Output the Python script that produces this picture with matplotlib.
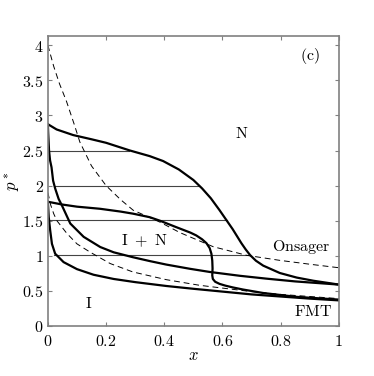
import matplotlib
matplotlib.use("Agg")
import matplotlib.pyplot as plt
from matplotlib.ticker import FuncFormatter

plt.rcParams['mathtext.fontset'] = 'cm'
plt.rcParams['font.family'] = 'serif'
plt.rcParams['font.serif'] = ['DejaVu Serif']

# outer coexistence region (upper binodal)
outer_N_x = [0, 0.03, 0.087, 0.15, 0.2, 0.282, 0.35, 0.396, 0.45, 0.5, 0.53, 0.56,
             0.59, 0.615, 0.635, 0.65, 0.665, 0.68, 0.695, 0.715, 0.74, 0.797, 0.855,
             0.912, 1.0]
outer_N_p = [2.875, 2.80, 2.72, 2.66, 2.61, 2.50, 2.42, 2.35, 2.23, 2.08, 1.96, 1.82,
             1.65, 1.50, 1.38, 1.28, 1.18, 1.09, 1.01, 0.93, 0.86, 0.755, 0.69,
             0.645, 0.59]
outer_I_x = [0, 0.001, 0.004, 0.0075, 0.0126, 0.018, 0.025, 0.037, 0.048, 0.077, 0.123,
             0.18, 0.226, 0.292, 0.35, 0.407, 0.488, 0.556, 0.66, 0.75, 0.85, 1.0]
outer_I_p = [2.875, 2.76, 2.5, 2.36, 2.26, 2.07, 1.96, 1.81, 1.72, 1.46, 1.27,
             1.125, 1.05, 0.98, 0.925, 0.875, 0.815, 0.77, 0.715, 0.675, 0.635, 0.59]

# inner coexistence region (lower binodal)
inner_N_x = [0, 0.05, 0.1, 0.179, 0.25, 0.293, 0.35, 0.385, 0.44, 0.49, 0.51, 0.53,
             0.545, 0.556, 0.562, 0.565, 0.566, 0.565, 0.567, 0.575, 0.59, 0.61, 0.635,
             0.67, 0.74, 0.855, 1.0]
inner_N_p = [1.77, 1.73, 1.70, 1.67, 1.63, 1.60, 1.55, 1.50, 1.41, 1.33, 1.29, 1.235,
             1.18, 1.11, 1.03, 0.93, 0.82, 0.72, 0.67, 0.63, 0.60, 0.575, 0.55,
             0.52, 0.47, 0.415, 0.376]
inner_I_x = [0, 0.003, 0.008, 0.014, 0.025, 0.054, 0.1, 0.157, 0.226, 0.3, 0.407,
             0.5, 0.6, 0.7, 0.8, 0.9, 1.0]
inner_I_p = [1.77, 1.55, 1.36, 1.17, 1.03, 0.91, 0.81, 0.73, 0.67, 0.625, 0.57,
             0.53, 0.49, 0.45, 0.42, 0.39, 0.365]

# dashed reference curves
onsager_x = [0, 0.02, 0.04, 0.064, 0.09, 0.11, 0.15, 0.2, 0.25, 0.293, 0.385, 0.454,
             0.568, 0.683, 0.797, 0.9, 1.0]
onsager_p = [4.0, 3.7, 3.45, 3.2, 2.88, 2.62, 2.28, 2.0, 1.8, 1.65, 1.48, 1.33,
             1.13, 1.007, 0.935, 0.88, 0.83]
fmt_x = [0, 0.01, 0.02, 0.031, 0.065, 0.1, 0.146, 0.214, 0.292, 0.407, 0.521, 0.6,
         0.7, 0.8, 0.9, 1.0]
fmt_p = [1.9, 1.72, 1.6, 1.5, 1.32, 1.17, 1.05, 0.89, 0.77, 0.66, 0.58, 0.54,
         0.49, 0.45, 0.42, 0.39]

# tie lines: pressure, left x, right x
tie_p = [2.5, 1.99, 1.505, 1.005]
tie_x0 = [0.003, 0.026, 0.002, 0.022]
tie_x1 = [0.28, 0.52, 0.615, 0.693]

xticks = [0, 0.2, 0.4, 0.6, 0.8, 1]
yticks = [0, 0.5, 1, 1.5, 2, 2.5, 3, 3.5, 4]

fig = plt.figure(figsize=(3.74, 3.76), dpi=100)
ax = fig.add_axes([0.128, 0.133, 0.778, 0.771])

for p, a, b in zip(tie_p, tie_x0, tie_x1):
    ax.plot([a, b], [p, p], color='#444444', lw=0.8)

ax.plot(onsager_x, onsager_p, color='black', lw=0.7, dashes=(6, 4))
ax.plot(fmt_x, fmt_p, color='black', lw=0.7, dashes=(6, 4))

for xs, ps in [(outer_N_x, outer_N_p), (outer_I_x, outer_I_p),
               (inner_N_x, inner_N_p), (inner_I_x, inner_I_p)]:
    ax.plot(xs, ps, color='black', lw=1.6, solid_joinstyle='round')

ax.set_xlim(0, 1)
ax.set_ylim(0, 4.13)
ax.set_xticks(xticks)
ax.set_yticks(yticks)
fmt = FuncFormatter(lambda v, pos: r'$%g$' % v)
ax.xaxis.set_major_formatter(fmt)
ax.yaxis.set_major_formatter(fmt)
ax.tick_params(direction='in', top=True, right=True, length=3, width=0.8,
               color='#808080', labelsize=11.5, pad=5)
ax.tick_params(axis='y', pad=3)
for s in ax.spines.values():
    s.set_color('#808080')
    s.set_linewidth(1.2)

ax.set_xlabel(r'$x$', fontsize=12, labelpad=-2)
ax.set_ylabel(r'$p^*$', fontsize=12, labelpad=0)

tkw = dict(fontsize=11.5, ha='center', va='center')
ax.text(0.9, 3.85, r'$(\mathrm{c})$', **tkw)
ax.text(0.666, 2.74, r'$\mathrm{N}$', **tkw)
ax.text(0.33, 1.21, r'$\mathrm{I}\ +\ \mathrm{N}$', **tkw)
ax.text(0.872, 1.125, r'$\mathrm{Onsager}$', **tkw)
ax.text(0.912, 0.2, r'$\mathrm{FMT}$', **tkw)
ax.text(0.139, 0.32, r'$\mathrm{I}$', **tkw)

fig.savefig('out.png', dpi=100)
